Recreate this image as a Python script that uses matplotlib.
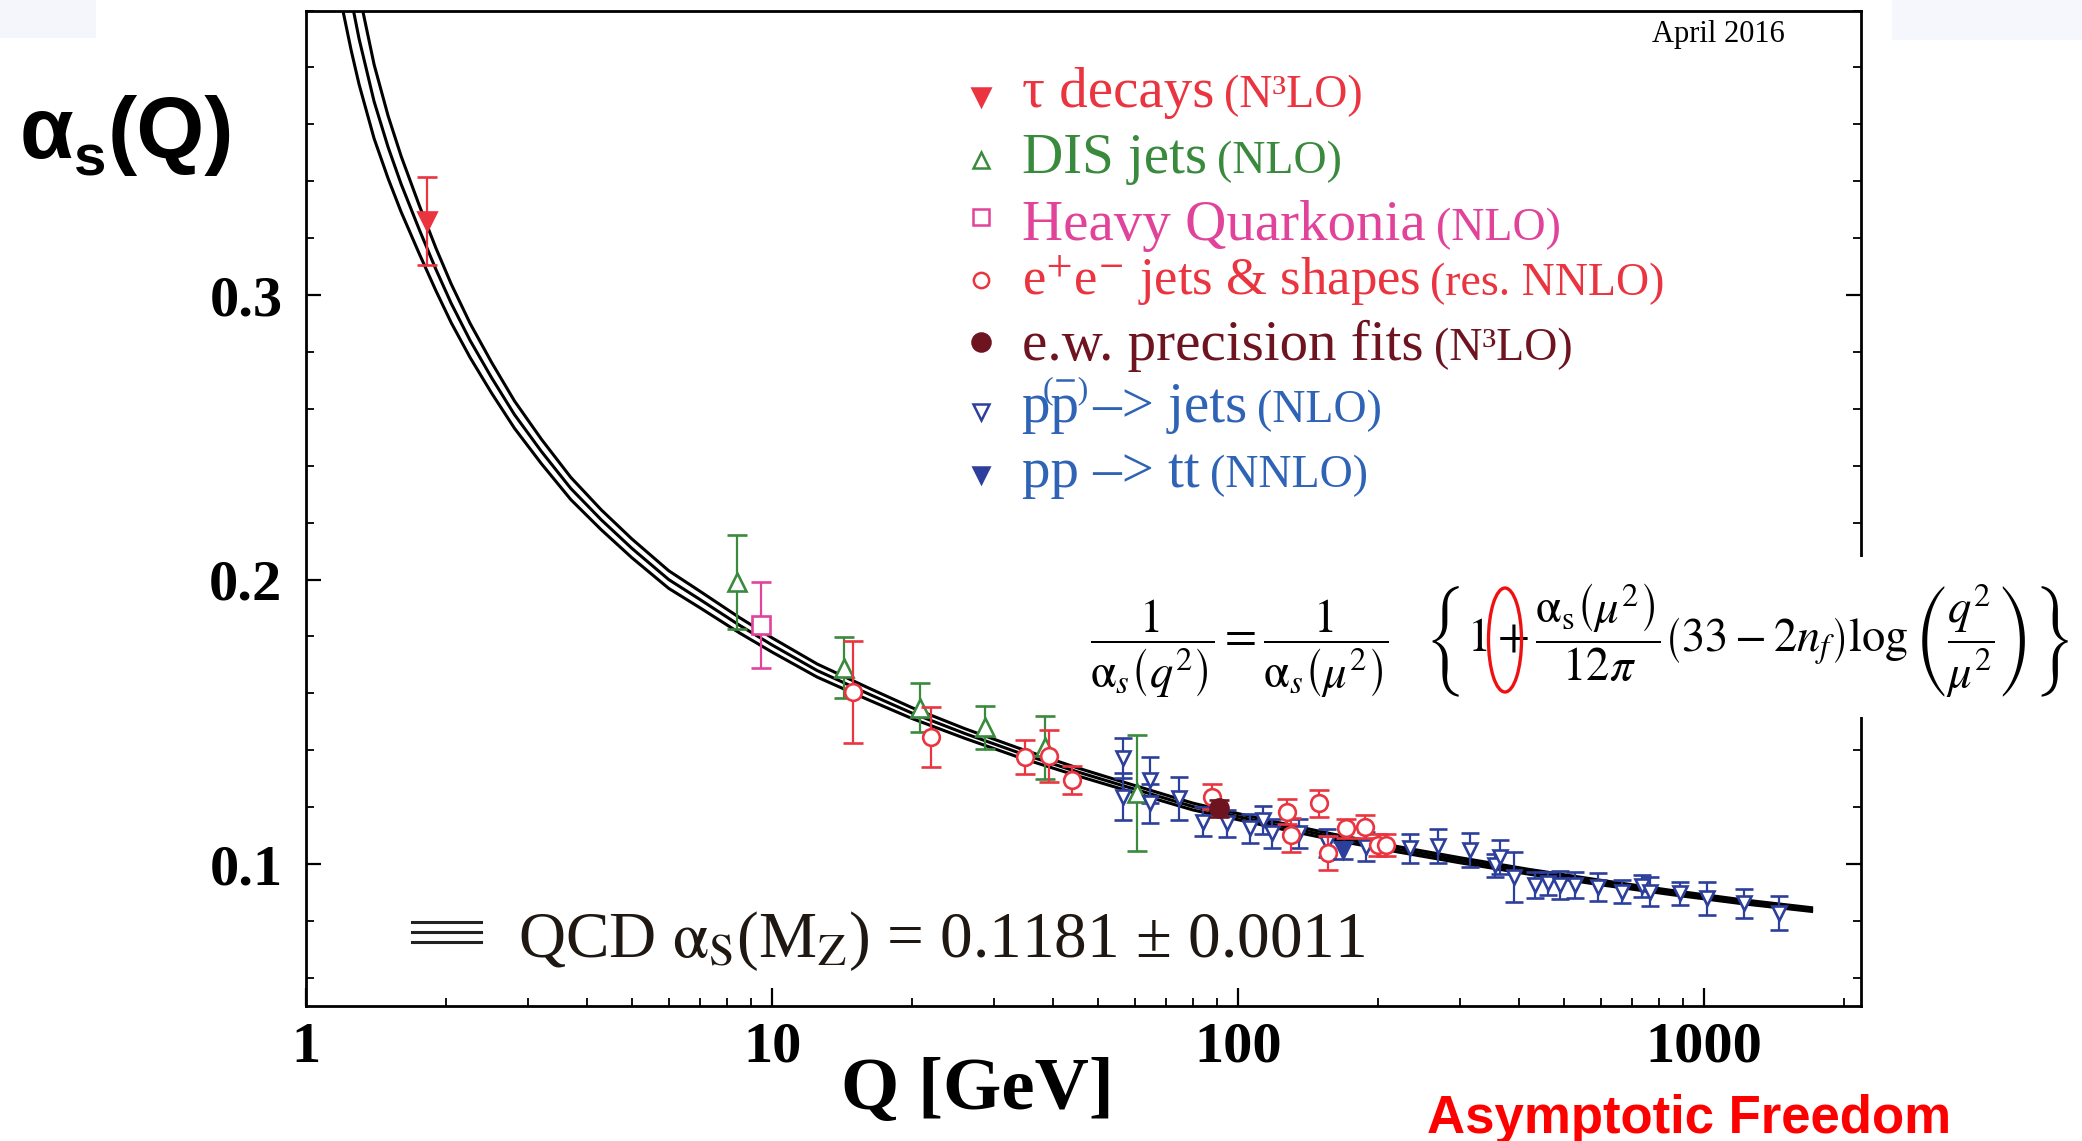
import matplotlib
matplotlib.use("Agg")
import matplotlib.pyplot as plt
from matplotlib.lines import Line2D
from matplotlib.patches import Ellipse, Rectangle
from matplotlib.ticker import LogLocator, MultipleLocator, NullFormatter

W, H = 2082, 1141

# QCD running coupling band (lower, central, upper line)
q_band = [1.2, 1.25, 1.3, 1.4, 1.5, 1.6, 1.75, 1.9, 2.05, 2.25, 2.5, 2.8, 3.2, 3.7,
          4.3, 5.0, 6.0, 7.0, 8.5, 10, 12.5, 16, 20, 26, 34, 45, 60, 80, 91.19,
          120, 160, 220, 300, 420, 600, 850, 1200, 1700]
alpha_mid = [0.420, 0.404, 0.390, 0.368, 0.352, 0.339, 0.323, 0.309, 0.297, 0.284,
             0.271, 0.258, 0.245, 0.232, 0.221, 0.211, 0.200, 0.193, 0.184, 0.177,
             0.168, 0.160, 0.153, 0.1458, 0.139, 0.1325, 0.1263, 0.1202, 0.1181,
             0.1138, 0.1095, 0.1052, 0.1013, 0.0973, 0.0935, 0.0900, 0.0868, 0.0840]
alpha_hi = [0.440, 0.422, 0.406, 0.381, 0.363, 0.3488, 0.3315, 0.3165, 0.3038, 0.290,
            0.2764, 0.2628, 0.2493, 0.2359, 0.2245, 0.2143, 0.2031, 0.1959, 0.1867,
            0.1795, 0.1703, 0.1621, 0.1549, 0.1475, 0.1406, 0.1339, 0.1276, 0.1214,
            0.1192, 0.11485, 0.1105, 0.10615, 0.1022, 0.09815, 0.0943, 0.09075,
            0.0875, 0.08465]
alpha_lo = [0.400, 0.386, 0.374, 0.355, 0.341, 0.3292, 0.3145, 0.3015, 0.2902, 0.278,
            0.2656, 0.2532, 0.2407, 0.2281, 0.2175, 0.2077, 0.1969, 0.1901, 0.1813,
            0.1745, 0.1657, 0.1579, 0.1511, 0.1441, 0.1374, 0.1311, 0.1250, 0.1190,
            0.1170, 0.11275, 0.1085, 0.10425, 0.1004, 0.09645, 0.0927, 0.08925,
            0.0861, 0.08335]

# measurements: Q [GeV], alpha_s, error
tau_q = [1.82]
tau_a = [0.326]
tau_e = [0.0155]

dis_q = [8.4, 14.3, 20.8, 28.6, 38.5, 60.8]
dis_a = [0.199, 0.169, 0.155, 0.148, 0.141, 0.125]
dis_e = [0.0165, 0.0107, 0.0085, 0.0077, 0.011, 0.0203]

hq_q = [9.46]
hq_a = [0.184]
hq_e = [0.015]

ee_q = [14.95, 21.9, 34.9, 39.2, 44.0, 87.8, 127, 130, 149, 156, 170, 187, 200, 208]
ee_a = [0.1605, 0.1446, 0.1377, 0.138, 0.1295, 0.1237, 0.1184, 0.1102, 0.1213,
        0.1038, 0.1125, 0.1131, 0.1067, 0.1067]
ee_e = [0.018, 0.0105, 0.006, 0.009, 0.0048, 0.0043, 0.0044, 0.006, 0.0046, 0.006,
        0.0035, 0.004, 0.004, 0.004]

ew_q = [91.19]
ew_a = [0.1196]
ew_e = [0.003]

jets_q = [56.6, 56.6, 64.7, 64.7, 74.8, 84, 94.6, 106, 113, 118, 135, 155, 188, 234,
          268, 315, 355, 365, 390, 434, 463, 491, 529, 593, 666, 735, 766, 888, 1013,
          1215, 1444]
jets_a = [0.1372, 0.1237, 0.1295, 0.1213, 0.1231, 0.1149, 0.1143, 0.1125, 0.1155,
          0.1108, 0.1108, 0.1073, 0.1061, 0.1055, 0.1063, 0.1049, 0.0996, 0.1026,
          0.0955, 0.0926, 0.0932, 0.0926, 0.0926, 0.0920, 0.0903, 0.0923, 0.0903,
          0.0897, 0.0879, 0.0862, 0.0827]
jets_e = [0.007, 0.0082, 0.008, 0.007, 0.0075, 0.0052, 0.0047, 0.0052, 0.005, 0.005,
          0.005, 0.005, 0.005, 0.005, 0.006, 0.006, 0.004, 0.006, 0.0087, 0.0047,
          0.004, 0.005, 0.0047, 0.005, 0.004, 0.004, 0.005, 0.004, 0.0058, 0.0052,
          0.006]

tt_q = [168]
tt_a = [0.1049]
tt_e = [0.003]

legend_main = ["τ decays", "DIS jets", "Heavy Quarkonia",
               r"e$^{+}$e$^{-}$ jets & shapes", "e.w. precision fits",
               "pp –> jets", "pp –> tt"]
legend_order = ["(N³LO)", "(NLO)", "(NLO)", "(res. NNLO)", "(N³LO)", "(NLO)", "(NNLO)"]

RED = "#ea3440"
GREEN = "#3a8a3e"
PINK = "#e2439a"
DARKRED = "#6e1420"
NAVY = "#2d3f9c"
BLUE_TXT = "#2f63b6"

plt.rcParams["font.family"] = ["Liberation Serif", "DejaVu Serif"]
plt.rcParams["mathtext.fontset"] = "stix"

fig = plt.figure(figsize=(W / 100, H / 100), dpi=100)
fig.patch.set_facecolor("white")


def fx(px):
    return px / W


def fy(py):
    return 1 - py / H


ax = fig.add_axes([fx(306), fy(1006.3), 1555 / W, 995.8 / H])
ax.set_xscale("log")
ax.set_xlim(1, 2170)
ax.set_ylim(0.05, 0.4)

for a in (alpha_lo, alpha_mid, alpha_hi):
    ax.plot(q_band, a, color="black", lw=2.2, zorder=2)


def points(q, a, e, marker, color, ms, fill="white", capsize=7, z=4):
    ax.errorbar(q, a, yerr=e, fmt=marker, ms=ms, mfc=fill, mec=color, mew=1.9,
                ecolor=color, elinewidth=1.6, capsize=capsize, capthick=1.6,
                zorder=z)


points(tau_q, tau_a, tau_e, "v", RED, 13, fill=RED)
points(dis_q, dis_a, dis_e, "^", GREEN, 13)
points(hq_q, hq_a, hq_e, "s", PINK, 13)
points(jets_q, jets_a, jets_e, "v", NAVY, 10.5, capsize=6.5)
points(ee_q, ee_a, ee_e, "o", RED, 12, z=4.5)
points(tt_q, tt_a, tt_e, "v", NAVY, 11, fill=NAVY, z=5)
points(ew_q, ew_a, ew_e, "o", DARKRED, 13, fill=DARKRED, z=5)

# axes styling
for sp in ax.spines.values():
    sp.set_linewidth(2)
ax.set_xticks([1, 10, 100, 1000])
ax.set_xticklabels(["1", "10", "100", "1000"])
ax.xaxis.set_minor_locator(LogLocator(base=10, subs=range(2, 10), numticks=20))
ax.xaxis.set_minor_formatter(NullFormatter())
ax.set_yticks([0.1, 0.2, 0.3])
ax.set_yticklabels(["0.1", "0.2", "0.3"])
ax.yaxis.set_minor_locator(MultipleLocator(0.02))
ax.tick_params(which="both", direction="in", left=True, right=True, top=False,
               bottom=True)
ax.tick_params(axis="x", which="major", length=13, width=1.6, pad=11, labelsize=42)
ax.tick_params(axis="x", which="minor", length=6, width=1.3)
ax.tick_params(axis="y", which="major", length=10.5, width=1.6, pad=17, labelsize=42)
ax.tick_params(axis="y", which="minor", length=5.5, width=1.3)
for lab in ax.get_xticklabels() + ax.get_yticklabels():
    lab.set_fontweight("bold")

r = fig.canvas.get_renderer()


def after(prev, s, baseline, gap, **kw):
    bb = prev.get_window_extent(renderer=r)
    return fig.text((bb.x1 + gap) / W, fy(baseline), s, va="baseline", **kw)


# axis titles
fig.text(fx(841), fy(1109), "Q [GeV]", fontsize=54, fontweight="bold", va="baseline")
t_a = fig.text(fx(20), fy(158), "α", fontsize=63, fontweight="bold",
               family="Liberation Sans", va="baseline")
t_s = after(t_a, "s", 176, 0, fontsize=42, fontweight="bold", family="Liberation Sans")
after(t_s, "(Q)", 158, 2, fontsize=63, fontweight="bold", family="Liberation Sans")

fig.text(fx(1652), fy(42), "April 2016", fontsize=22, va="baseline")

# legend
leg_marks = [("v", RED, RED, 13), ("^", GREEN, "white", 11), ("s", PINK, "white", 11),
             ("o", RED, "white", 11), ("o", DARKRED, DARKRED, 13),
             ("v", NAVY, "white", 11), ("v", NAVY, NAVY, 12)]
leg_colors = [RED, GREEN, PINK, RED, DARKRED, BLUE_TXT, BLUE_TXT]
leg_sizes = [41, 41, 41, 38, 41, 41, 41]
mark_y = [97, 160, 217, 280, 342, 412, 475]
base_y = [107, 173, 240, 295, 360, 422, 487]
for (m, ec, fc, ms), col, fs, my, by, big, small in zip(
        leg_marks, leg_colors, leg_sizes, mark_y, base_y, legend_main, legend_order):
    fig.add_artist(Line2D([fx(981)], [fy(my)], marker=m, ms=ms, mec=ec, mfc=fc,
                          mew=1.8, ls="none", transform=fig.transFigure))
    tb = fig.text(fx(1022), fy(by), big, fontsize=fs, color=col, va="baseline")
    after(tb, small, by, 10, fontsize=33, color=col)
    if big.startswith("pp –> jets"):
        # (bar) over the second p
        pp = fig.text(fx(1022), fy(by), "pp", fontsize=fs, alpha=0)
        bb = pp.get_window_extent(renderer=r)
        cx = bb.x0 + 0.76 * bb.width
        fig.text(cx / W, fy(by - 24), "(   )", fontsize=23, color=col,
                 ha="center", va="baseline")
        fig.add_artist(Line2D([(cx - 8) / W, (cx + 8) / W], [fy(by - 42), fy(by - 42)],
                              color=col, lw=1.8, transform=fig.transFigure))

# band key and fit result
for ky in (922, 932, 942):
    fig.add_artist(Line2D([fx(412), fx(481)], [fy(ky), fy(ky)], color="#222222",
                          lw=2.2, transform=fig.transFigure))
fig.text(fx(518), fy(957),
         r"QCD $\mathrm{\alpha}_\mathrm{S}$(M$_\mathrm{Z}$) = 0.1181 ± 0.0011",
         fontsize=47, color="#1e1712", va="baseline")

# renormalisation group equation
fig.add_artist(Rectangle((fx(1070), fy(717)), (W - 1070) / W, 160 / H,
                         facecolor="white", edgecolor="none",
                         transform=fig.transFigure, zorder=2))
formula = (r"$\dfrac{1}{\mathrm{\alpha}_s\left(q^2\right)}="
           r"\dfrac{1}{\mathrm{\alpha}_s\left(\mu^2\right)}\ \ \ "
           r"\left\{1+\dfrac{\mathrm{\alpha}_\mathrm{s}\left(\mu^2\right)}{12\pi}"
           r"\left(33-2n_f\right)\log\left(\dfrac{q^2}{\mu^2}\right)\right\}$")
fig.text(fx(1090), fy(641), formula, fontsize=33.5, va="center", ha="left", zorder=3)
fig.add_artist(Ellipse((fx(1505), fy(640)), 33 / W, 104 / H, fill=False,
                       edgecolor="#ee1111", lw=2.4, transform=fig.transFigure,
                       zorder=4))

fig.text(fx(1427), fy(1133), "Asymptotic Freedom", fontsize=38, fontweight="bold",
         family="Liberation Sans", color="#ff0000", va="baseline")

# faint slide corners
fig.add_artist(Rectangle((0, fy(38)), 96 / W, 38 / H, facecolor="#f5f6fc",
                         edgecolor="none", transform=fig.transFigure, zorder=0))
fig.add_artist(Rectangle((fx(1892), fy(40)), (W - 1892) / W, 40 / H,
                         facecolor="#f6f7fd", edgecolor="none",
                         transform=fig.transFigure, zorder=0))

fig.savefig("out.png", dpi=100)
